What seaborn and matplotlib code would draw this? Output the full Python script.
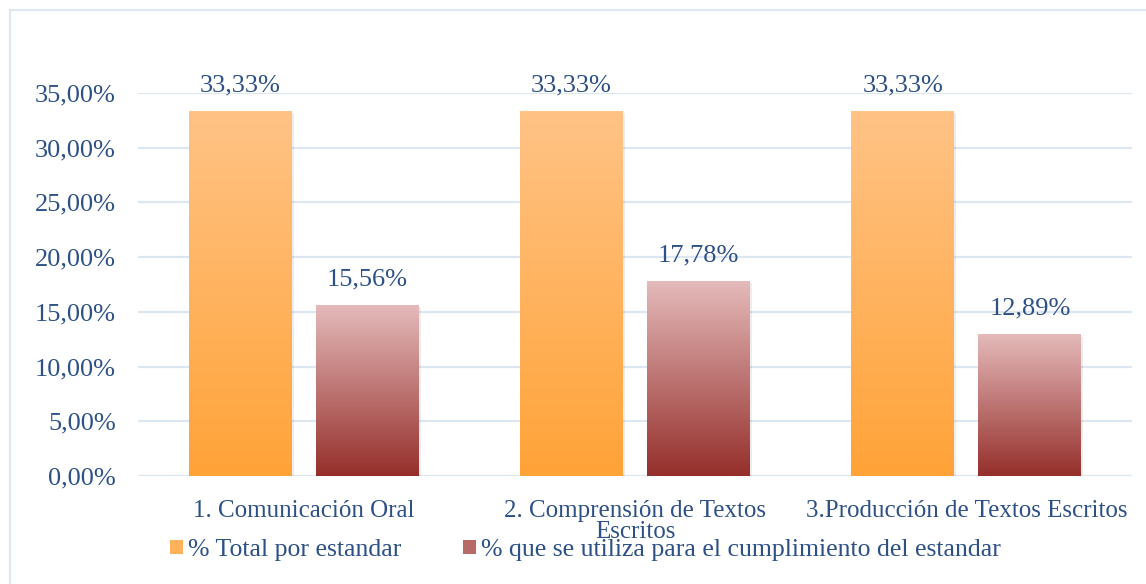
import numpy as np
import pandas as pd
import matplotlib
matplotlib.use('Agg')
import matplotlib.pyplot as plt
from matplotlib.colors import LinearSegmentedColormap
from matplotlib.patches import Rectangle
import seaborn as sns

# Data
categories = ['1. Comunicación Oral', '2. Comprensión de Textos\nEscritos', '3.Producción de Textos Escritos']
series = ['% Total por estandar', '% que se utiliza para el cumplimiento del estandar']
total_por_estandar = [33.33, 33.33, 33.33]
cumplimiento = [15.56, 17.78, 12.89]

# colours
text_color = '#2d5086'
grid_color = '#dde7f2'
orange_top, orange_bottom = '#ffc386', '#ffa338'
red_top, red_bottom = '#e4baba', '#952f2b'

df = pd.DataFrame({
    'categoria': categories * 2,
    'serie': [series[0]] * 3 + [series[1]] * 3,
    'valor': total_por_estandar + cumplimiento,
})

sns.set_style('white')
plt.rcParams['font.family'] = ['Liberation Serif', 'DejaVu Serif']

fig = plt.figure(figsize=(11.46, 5.84), dpi=100)
ax = fig.add_axes([138 / 1146, 1 - 476 / 584, (1132 - 138) / 1146, (476 - 93) / 584])

sns.barplot(data=df, x='categoria', y='valor', hue='serie', order=categories, hue_order=series,
            palette=[orange_bottom, red_bottom], width=0.767, gap=0.19, ax=ax, legend=False,
            errorbar=None, zorder=3)

ax.set_xlim(-0.5, 2.5)
ax.set_ylim(0, 35)

# gradient fill for each bar (light at top, dark at bottom)
cmaps = {
    0: LinearSegmentedColormap.from_list('orange', [orange_bottom, orange_top]),
    1: LinearSegmentedColormap.from_list('red', [red_bottom, red_top]),
}
grad = np.linspace(0, 1, 256).reshape(-1, 1)
bars = list(ax.patches)
for i, bar in enumerate(bars):
    s = i // 3
    x, w, h = bar.get_x(), bar.get_width(), bar.get_height()
    # soft shadow
    ax.add_patch(Rectangle((x + 0.006, -0.15), w, h, facecolor='#000000', alpha=0.07,
                           edgecolor='none', zorder=2))
    ax.imshow(grad, extent=[x, x + w, 0, h], origin='lower', aspect='auto',
              cmap=cmaps[s], zorder=3)
    bar.set_facecolor('none')
    bar.set_edgecolor('none')

ax.set_xlim(-0.5, 2.5)
ax.set_ylim(0, 35)

for container, vals in zip(ax.containers, [total_por_estandar, cumplimiento]):
    ax.bar_label(container, labels=[f'{v:.2f}%'.replace('.', ',') for v in vals],
                 padding=11, color=text_color, fontsize=19)

ax.set_yticks(np.arange(0, 36, 5))
ax.set_yticklabels([f'{v:.2f}%'.replace('.', ',') for v in np.arange(0, 36, 5)])
ax.tick_params(axis='y', length=0, pad=16, labelsize=19, labelcolor=text_color)
ax.tick_params(axis='x', length=0, pad=17, labelsize=18, labelcolor=text_color)
for lbl in ax.get_xticklabels():
    lbl.set_multialignment('center')
    lbl.set_linespacing(0.95)

ax.grid(axis='y', color=grid_color, linewidth=1.6, zorder=0)
ax.set_axisbelow(True)
for sp in ax.spines.values():
    sp.set_visible(False)
ax.set_xlabel('')
ax.set_ylabel('')

# legend
handles = [Rectangle((0, 0), 1, 1, facecolor='#ffb25c', edgecolor='none'),
           Rectangle((0, 0), 1, 1, facecolor='#b86a66', edgecolor='none')]
fig.legend(handles, series, loc='center left', bbox_to_anchor=(170 / 1146, 1 - 550 / 584),
           ncol=2, frameon=False, fontsize=18.5, handlelength=0.5, handleheight=0.5,
           handletextpad=0.2, columnspacing=2.4, labelcolor=text_color,
           borderaxespad=0, borderpad=0)

# outer chart border
fig.patches.append(Rectangle((10 / 1146, -0.1), 1.2, 1 - 10 / 584 + 0.1, transform=fig.transFigure,
                             facecolor='none', edgecolor=grid_color, linewidth=1.5, zorder=0))

fig.savefig('out.png', dpi=100)
